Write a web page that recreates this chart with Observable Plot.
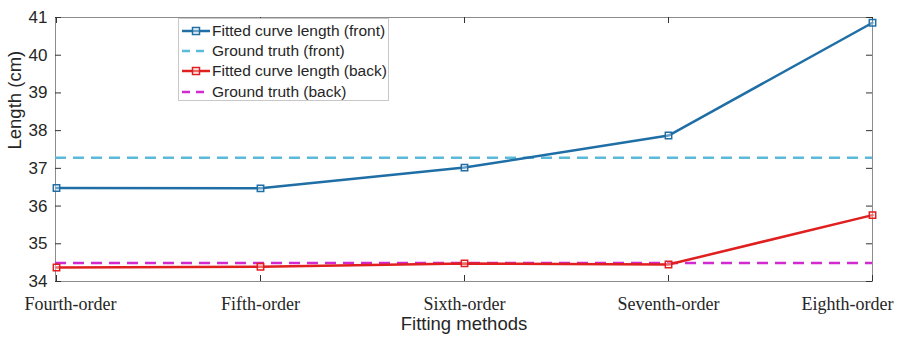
<!DOCTYPE html>
<html>
<head>
<meta charset="utf-8">
<script src="https://cdn.jsdelivr.net/npm/d3@7"></script>
<script src="https://cdn.jsdelivr.net/npm/@observablehq/plot@0.6"></script>
<style>
  html, body { margin: 0; padding: 0; background: #fff; }
  #wrap { position: relative; width: 898px; height: 340px; }
  #legend { position: absolute; left: 178px; top: 18px; width: 211px; height: 83px;
    border: 1px solid #c8c8c8; background: #fff; box-sizing: border-box;
    font-family: "Liberation Sans", Arial, sans-serif; font-size: 15.5px; color: #262626; }
  .row { position: absolute; left: 2px; height: 20px; display: flex; align-items: center; }
  .row svg { width: 30px; height: 20px; display: block; }
  .row span { margin-left: 1px; white-space: nowrap; }
</style>
</head>
<body>
<div id="wrap"><div id="chart"></div><div id="legend"></div></div>
<script>
const categories = ["Fourth-order", "Fifth-order", "Sixth-order", "Seventh-order", "Eighth-order"];
const fittedFront = [36.48, 36.47, 37.02, 37.87, 40.86];
const fittedBack = [34.37, 34.39, 34.48, 34.45, 35.76];
const truthFront = 37.28;
const truthBack = 34.49;
const yTicks = [34, 35, 36, 37, 38, 39, 40, 41];
const seriesNames = ["Fitted curve length (front)", "Ground truth (front)", "Fitted curve length (back)", "Ground truth (back)"];
const colors = {front: "#1f6fa6", truthFront: "#5bbad8", back: "#e01f1f", truthBack: "#d12ad1"};

const front = categories.map((c, i) => ({cat: c, v: fittedFront[i]}));
const back = categories.map((c, i) => ({cat: c, v: fittedBack[i]}));

const W = 898, H = 340, mL = 55, mR = 26, mT = 17, mB = 59;
const fw = W - mL - mR, fh = H - mT - mB, tk = 6;
const serif = "Liberation Serif, Times New Roman, serif";

const chart = Plot.plot({
  width: W, height: H,
  marginLeft: mL, marginRight: mR, marginTop: mT, marginBottom: mB,
  style: {fontFamily: "Liberation Sans, Arial, sans-serif", color: "#262626", background: "#fff"},
  x: {type: "point", domain: categories, padding: 0},
  y: {domain: [34, 41]},
  marks: [
    Plot.frame({stroke: "#8c8c8c", strokeWidth: 1}),
    // inward ticks
    Plot.ruleY(yTicks, {y: d => d, insetRight: fw - tk, stroke: "#333"}),
    Plot.ruleY(yTicks, {y: d => d, insetLeft: fw - tk, stroke: "#333"}),
    Plot.ruleX(categories, {x: d => d, insetTop: fh - tk, stroke: "#333"}),
    Plot.ruleX(categories, {x: d => d, insetBottom: fh - tk, stroke: "#333"}),
    Plot.axisY({ticks: yTicks, tickSize: 0, tickPadding: 8, fontSize: 17, tickFormat: d3.format("d"), label: null}),
    Plot.axisX(categories.slice(1, 4), {tickSize: 0, tickPadding: 16, fontSize: 18, fontFamily: serif, label: null}),
    Plot.axisX(categories.slice(0, 1), {tickSize: 0, tickPadding: 16, dx: 14, fontSize: 18, fontFamily: serif, label: null}),
    Plot.axisX(categories.slice(4), {tickSize: 0, tickPadding: 16, dx: -25, fontSize: 18, fontFamily: serif, label: null}),
    Plot.text(["Fitting methods"], {frameAnchor: "bottom", dy: 48, text: d => d, fontSize: 18.5, fill: "#262626"}),
    Plot.text(["Length (cm)"], {frameAnchor: "left", dx: -40, rotate: -90, text: d => d, fontSize: 18.5, fill: "#262626"}),
    Plot.ruleY([truthFront], {y: d => d, stroke: colors.truthFront, strokeWidth: 2.5, strokeDasharray: "11,7"}),
    Plot.ruleY([truthBack], {y: d => d, stroke: colors.truthBack, strokeWidth: 2.5, strokeDasharray: "11,7"}),
    Plot.line(front, {x: "cat", y: "v", stroke: colors.front, strokeWidth: 2.5}),
    Plot.dot(front, {x: "cat", y: "v", symbol: "square", r: 3.6, stroke: colors.front, strokeWidth: 1.5, fill: "#fff", fillOpacity: 0.35}),
    Plot.line(back, {x: "cat", y: "v", stroke: colors.back, strokeWidth: 2.5}),
    Plot.dot(back, {x: "cat", y: "v", symbol: "square", r: 3.6, stroke: colors.back, strokeWidth: 1.5, fill: "#fff", fillOpacity: 0.35})
  ]
});
document.getElementById("chart").appendChild(chart);

// legend
const legend = document.getElementById("legend");
const legendItems = [
  {name: seriesNames[0], color: colors.front, dash: null, marker: true},
  {name: seriesNames[1], color: colors.truthFront, dash: "8,6", marker: false},
  {name: seriesNames[2], color: colors.back, dash: null, marker: true},
  {name: seriesNames[3], color: colors.truthBack, dash: "8,6", marker: false}
];
legendItems.forEach((it, i) => {
  const row = document.createElement("div");
  row.className = "row";
  row.style.top = (2 + i * 20.2) + "px";
  const ns = "http://www.w3.org/2000/svg";
  const svg = document.createElementNS(ns, "svg");
  svg.setAttribute("viewBox", "0 0 30 20");
  const ln = document.createElementNS(ns, "line");
  ln.setAttribute("x1", 1); ln.setAttribute("x2", 29); ln.setAttribute("y1", 10); ln.setAttribute("y2", 10);
  ln.setAttribute("stroke", it.color); ln.setAttribute("stroke-width", 2.5);
  if (it.dash) ln.setAttribute("stroke-dasharray", it.dash);
  svg.appendChild(ln);
  if (it.marker) {
    const r = document.createElementNS(ns, "rect");
    r.setAttribute("x", 11.5); r.setAttribute("y", 6.5); r.setAttribute("width", 7); r.setAttribute("height", 7);
    r.setAttribute("fill", "#fff"); r.setAttribute("fill-opacity", 0.35);
    r.setAttribute("stroke", it.color); r.setAttribute("stroke-width", 1.5);
    svg.appendChild(r);
  }
  row.appendChild(svg);
  const sp = document.createElement("span");
  sp.textContent = it.name;
  row.appendChild(sp);
  legend.appendChild(row);
});
</script>
</body>
</html>
